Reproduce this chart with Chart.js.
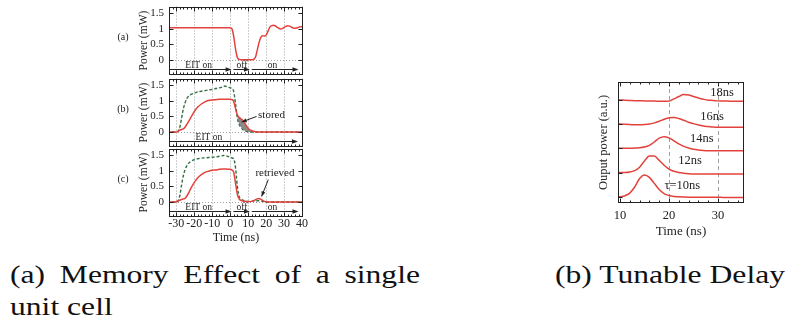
<!DOCTYPE html>
<html>
<head>
<meta charset="utf-8">
<script src="https://cdn.jsdelivr.net/npm/chart.js@4.4.0/dist/chart.umd.min.js"></script>
<style>
  body { margin: 0; background: #fff; width: 787px; height: 327px; position: relative; overflow: hidden; }
  canvas { position: absolute; }
  .cap { position: absolute; font-size: 26px; line-height: 31px; color: #111;
         white-space: nowrap; transform-origin: 0 0; }
</style>
</head>
<body>
<canvas id="panelA" width="210" height="78" style="left:100px;top:0px"></canvas>
<canvas id="panelB" width="210" height="78" style="left:100px;top:71.7px"></canvas>
<canvas id="panelC" width="210" height="103" style="left:100px;top:142.3px"></canvas>
<canvas id="delay" width="170" height="175" style="left:585px;top:70px"></canvas>
<div class="cap" id="capA1" style="left:10px;top:259px;text-align:justify;text-align-last:justify">(a) Memory Effect of a single</div>
<div class="cap" id="capA2" style="left:10px;top:291px">unit cell</div>
<div class="cap" id="capB" style="left:555px;top:259px">(b) Tunable Delay</div>
<script>
'use strict';

// Axis ticks for the three stacked memory panels
const memTicks = [-30, -20, -10, 0, 10, 20, 30, 40];
const powerTicks = [0, 0.5, 1, 1.5];

// (a) probe only, EIT off then back on
const aTime = [-35, -10, 0, 1, 2, 3, 4, 5, 6, 8, 10, 12, 13, 14, 15, 16, 17, 18, 19, 20, 21, 22, 23, 24, 25, 26, 27, 28, 29, 30, 31, 32, 33, 34, 35, 36, 37, 38, 39, 40];
const aPower = [1.04, 1.04, 1.04, 1.0, 0.75, 0.35, 0.08, 0.02, 0.01, 0.01, 0.01, 0.01, 0.02, 0.08, 0.3, 0.55, 0.72, 0.78, 0.77, 0.8, 0.92, 1.05, 1.1, 1.12, 1.1, 1.06, 1.02, 1.0, 1.01, 1.05, 1.08, 1.1, 1.09, 1.06, 1.03, 1.02, 1.03, 1.05, 1.07, 1.07];

// (b) pulse stored: green = input, red = output
const bTime = [-35, -31, -30, -29, -28, -27, -26, -25, -24, -23, -22, -20, -18, -16, -14, -12, -10, -8, -6, -4, -3, -2, -1, 0, 1, 2, 3, 4, 5, 6, 7, 8, 9, 10, 11, 12, 14, 16, 20, 30, 41];
const bInput = [0, 0, 0, 0.02, 0.15, 0.45, 0.75, 0.95, 1.08, 1.16, 1.2, 1.25, 1.29, 1.31, 1.33, 1.35, 1.37, 1.4, 1.42, 1.45, 1.48, 1.46, 1.44, 1.42, 1.4, 1.3, 0.9, 0.45, 0.25, 0.15, 0.08, 0.04, 0.02, 0.01, 0, 0, 0, 0, 0, 0, 0];
const bOutput = [0, 0, 0, 0.02, 0.06, 0.08, 0.1, 0.16, 0.25, 0.35, 0.45, 0.65, 0.8, 0.9, 0.97, 1.01, 1.03, 1.04, 1.05, 1.05, 1.05, 1.05, 1.05, 1.05, 1.04, 0.98, 0.75, 0.55, 0.47, 0.42, 0.38, 0.3, 0.2, 0.12, 0.07, 0.04, 0.01, 0, 0, 0, 0];

// (c) pulse retrieved
const cTime = [-35, -31, -30, -29, -28, -27, -26, -25, -24, -23, -22, -20, -18, -16, -14, -12, -10, -8, -6, -4, -3, -2, -1, 0, 1, 2, 3, 4, 5, 6, 7, 8, 10, 12, 13, 14, 15, 16, 17, 18, 19, 20, 22, 30, 41];
const cInput = [0, 0, 0, 0.03, 0.2, 0.55, 0.85, 1.05, 1.17, 1.25, 1.3, 1.36, 1.39, 1.41, 1.42, 1.43, 1.44, 1.45, 1.47, 1.49, 1.5, 1.48, 1.46, 1.44, 1.42, 1.38, 1.1, 0.5, 0.18, 0.1, 0.06, 0.04, 0.02, 0.02, 0.03, 0.04, 0.04, 0.04, 0.03, 0.02, 0.01, 0, 0, 0, 0];
const cOutput = [0, 0, 0.01, 0.03, 0.06, 0.08, 0.1, 0.12, 0.2, 0.3, 0.42, 0.62, 0.78, 0.88, 0.95, 0.99, 1.02, 1.03, 1.05, 1.06, 1.06, 1.06, 1.05, 1.05, 1.03, 0.95, 0.6, 0.25, 0.1, 0.05, 0.03, 0.02, 0.01, 0.02, 0.04, 0.07, 0.1, 0.11, 0.09, 0.05, 0.02, 0.01, 0, 0, 0];

// Tunable delay: one pulse per delay, stacked by offset
const delayTicks = [10, 20, 30];
const delayTime = [9, 10, 11, 12, 13, 14, 15, 16, 17, 18, 19, 20, 21, 22, 23, 24, 25, 26, 27, 28, 29, 30, 31, 32, 33, 34, 35, 36];
const delayOffsets = [0, 1, 2, 3, 4];
const delayLabels = ['τ=10ns', '12ns', '14ns', '16ns', '18ns'];
const pulse10 = [0, 0, 0.04, 0.15, 0.4, 0.75, 0.9, 0.8, 0.55, 0.3, 0.13, 0.05, 0.01, 0, -0.01, -0.02, -0.02, -0.02, -0.02, -0.02, -0.02, -0.02, -0.03, -0.03, -0.03, -0.03, -0.03, -0.03];
const pulse12 = [0, 0, 0, 0.02, 0.08, 0.22, 0.48, 0.68, 0.68, 0.5, 0.3, 0.14, 0.05, 0, -0.03, -0.05, -0.06, -0.06, -0.06, -0.06, -0.06, -0.06, -0.06, -0.06, -0.06, -0.06, -0.06, -0.06];
const pulse14 = [0, 0, 0, 0, 0.01, 0.02, 0.05, 0.12, 0.26, 0.42, 0.48, 0.43, 0.31, 0.18, 0.08, 0.01, -0.04, -0.07, -0.09, -0.1, -0.1, -0.1, -0.1, -0.1, -0.1, -0.1, -0.1, -0.1];
const pulse16 = [0, 0, -0.01, -0.02, -0.03, -0.03, -0.02, 0, 0.05, 0.12, 0.2, 0.26, 0.27, 0.23, 0.16, 0.08, 0.02, -0.04, -0.08, -0.1, -0.12, -0.13, -0.13, -0.13, -0.13, -0.13, -0.13, -0.13];
const pulse18 = [0, 0, -0.01, -0.02, -0.03, -0.03, -0.04, -0.05, -0.05, -0.06, -0.06, -0.05, 0.04, 0.14, 0.22, 0.2, 0.14, 0.08, 0.03, -0.01, -0.02, -0.04, -0.05, -0.05, -0.06, -0.06, -0.06, -0.06];
const delayPulses = [pulse10, pulse12, pulse14, pulse16, pulse18];

// pick the first installed Times-like face, else whatever serif there is
function pickSerif() {
  let c = document.createElement('canvas').getContext('2d');
  let probe = 'Memory Effect 0123';
  c.font = '20px monospace';
  let base = c.measureText(probe).width;
  let names = ['Liberation Serif', 'Tinos', 'Nimbus Roman', 'FreeSerif', 'Times New Roman', 'DejaVu Serif'];
  for (let i = 0; i < names.length; i++) {
    c.font = "20px '" + names[i] + "', monospace";
    if (c.measureText(probe).width !== base) return "'" + names[i] + "'";
  }
  return 'serif';
}

const serif = pickSerif() + ', serif';
const red = '#e3423c';
const green = '#2f6e3e';
const ink = '#222';

// captions: stretch to the widths of the original
(function () {
  let capB = document.getElementById('capB');
  ['capA1', 'capA2', 'capB'].forEach(function (id) { document.getElementById(id).style.fontFamily = serif; });
  let k = 230 / capB.getBoundingClientRect().width;
  ['capA1', 'capA2', 'capB'].forEach(function (id) {
    document.getElementById(id).style.transform = 'scaleX(' + k + ')';
  });
  document.getElementById('capA1').style.width = (410 / k) + 'px';
})();

function toPoints(xs, ys, shift) {
  return xs.map(function (x, i) { return { x: x, y: ys[i] + (shift || 0) }; });
}

function arrowHead(ctx, x0, y0, x1, y1, len, half) {
  let ang = Math.atan2(y1 - y0, x1 - x0);
  ctx.beginPath();
  ctx.moveTo(x1, y1);
  ctx.lineTo(x1 - len * Math.cos(ang) + half * Math.sin(ang), y1 - len * Math.sin(ang) - half * Math.cos(ang));
  ctx.lineTo(x1 - len * Math.cos(ang) - half * Math.sin(ang), y1 - len * Math.sin(ang) + half * Math.cos(ang));
  ctx.closePath();
  ctx.fill();
}

// keep the plot box exactly where the layout padding puts it
function fixWidth(w) {
  return function (s) { s.width = w; s.paddingTop = 0; s.paddingBottom = 0; };
}
function fixHeight(h) {
  return function (s) { s.height = h; s.paddingLeft = 0; s.paddingRight = 0; };
}

// Frame, inward ticks, dotted grid, EIT bands and notes
const decor = {
  id: 'decor',
  beforeDatasetsDraw(chart, args, o) {
    let ctx = chart.ctx, a = chart.chartArea, x = chart.scales.x, y = chart.scales.y;
    ctx.save();
    ctx.strokeStyle = '#a0a0a0';
    ctx.lineWidth = 1;
    ctx.setLineDash(o.gridDash || [1, 2]);
    (o.gridX || []).forEach(function (v) {
      let px = Math.round(x.getPixelForValue(v)) + 0.5;
      ctx.beginPath(); ctx.moveTo(px, a.top); ctx.lineTo(px, a.bottom); ctx.stroke();
    });
    (o.gridY || []).forEach(function (v) {
      let py = Math.round(y.getPixelForValue(v)) + 0.5;
      ctx.beginPath(); ctx.moveTo(a.left, py); ctx.lineTo(a.right, py); ctx.stroke();
    });
    ctx.restore();
  },
  afterDatasetsDraw(chart, args, o) {
    let ctx = chart.ctx, a = chart.chartArea, x = chart.scales.x, y = chart.scales.y;
    ctx.save();
    ctx.strokeStyle = ink;
    ctx.fillStyle = ink;
    ctx.lineWidth = 1;
    let l = Math.round(a.left) + 0.5, r = Math.round(a.right) - 0.5;
    let t = Math.round(a.top) + 0.5, b = Math.round(a.bottom) - 0.5;
    ctx.strokeRect(l, t, r - l, b - t);

    // x ticks, top and bottom, pointing in
    ctx.beginPath();
    let step = o.xMinor;
    for (let v = Math.ceil(x.min / step) * step; v <= x.max; v += step) {
      let px = Math.round(x.getPixelForValue(v)) + 0.5;
      let len = (o.xMajor.indexOf(v) >= 0) ? 4 : 2;
      ctx.moveTo(px, t); ctx.lineTo(px, t + len);
      ctx.moveTo(px, b); ctx.lineTo(px, b - len);
    }
    (o.yMajor || []).forEach(function (v) {
      let py = Math.round(y.getPixelForValue(v)) + 0.5;
      ctx.moveTo(l, py); ctx.lineTo(l + 4, py);
      if (o.yRight) { ctx.moveTo(r, py); ctx.lineTo(r - 4, py); }
    });
    ctx.stroke();

    // EIT on/off arrows under the traces
    if (o.bands) {
      let py = Math.round(y.getPixelForValue(o.bandY)) + 0.5;
      ctx.font = '9.5px ' + serif;
      ctx.textAlign = 'center';
      ctx.textBaseline = 'alphabetic';
      o.bands.forEach(function (band) {
        let x0 = band.from === undefined ? a.left : x.getPixelForValue(band.from);
        let x1 = x.getPixelForValue(band.to);
        ctx.beginPath(); ctx.moveTo(x0, py); ctx.lineTo(x1 - 3, py); ctx.stroke();
        arrowHead(ctx, x0, py, x1, py, 6, 2.2);
        ctx.fillText(band.text, x.getPixelForValue(band.at), py - 2);
      });
    }

    // annotations with arrows
    (o.notes || []).forEach(function (n) {
      ctx.font = '11px ' + serif;
      ctx.textAlign = 'center';
      ctx.textBaseline = 'middle';
      ctx.fillText(n.text, x.getPixelForValue(n.tx), y.getPixelForValue(n.ty));
      let x0 = x.getPixelForValue(n.from[0]), y0 = y.getPixelForValue(n.from[1]);
      let x1 = x.getPixelForValue(n.to[0]), y1 = y.getPixelForValue(n.to[1]);
      ctx.beginPath(); ctx.moveTo(x0, y0); ctx.lineTo(x1, y1); ctx.stroke();
      arrowHead(ctx, x0, y0, x1, y1, 5, 2);
    });

    // curve tags on the delay plot
    (o.tags || []).forEach(function (tg) {
      ctx.font = '12.5px ' + serif;
      ctx.textAlign = 'center';
      ctx.textBaseline = 'middle';
      ctx.fillText(tg.text, x.getPixelForValue(tg.x), y.getPixelForValue(tg.y));
    });

    if (o.panelLabel) {
      ctx.font = '10px ' + serif;
      ctx.textAlign = 'center';
      ctx.textBaseline = 'middle';
      ctx.fillText(o.panelLabel, a.left - 46, (a.top + a.bottom) / 2 - 3);
    }
    ctx.restore();
  }
};

function memoryPanel(id, datasets, decorOpts, showTime) {
  return new Chart(document.getElementById(id), {
    type: 'line',
    data: { datasets: datasets },
    plugins: [decor],
    options: {
      responsive: false,
      animation: false,
      devicePixelRatio: 1,
      layout: { padding: { left: 36.7, right: 7, top: 6.5, bottom: showTime ? 0 : 3.4 } },
      elements: { point: { radius: 0 }, line: { borderWidth: 1.5, cubicInterpolationMode: 'monotone' } },
      plugins: { legend: { display: false }, tooltip: { enabled: false }, decor: decorOpts },
      scales: {
        x: {
          type: 'linear', min: -34, max: 40.5, display: showTime,
          afterFit: fixHeight(showTime ? 28.4 : 0),
          afterBuildTicks: function (s) { s.ticks = memTicks.map(function (v) { return { value: v }; }); },
          grid: { display: false, drawTicks: false },
          border: { display: false },
          ticks: { padding: 0, autoSkip: false, maxRotation: 0, color: ink, font: { family: serif, size: 12 } },
          title: { display: true, text: 'Time (ns)', padding: 0, color: ink, font: { family: serif, size: 12 } }
        },
        y: {
          min: -0.47, max: 1.72,
          afterFit: fixWidth(32.3),
          afterBuildTicks: function (s) { s.ticks = powerTicks.map(function (v) { return { value: v }; }); },
          grid: { display: false, drawTicks: false },
          border: { display: false },
          ticks: { padding: 5, autoSkip: false, color: ink, font: { family: serif, size: 11 }, callback: function (v) { return String(v); } },
          title: { display: true, text: 'Power (mW)', padding: 0, color: ink, font: { family: serif, size: 11.5 } }
        }
      }
    }
  });
}

let splitBands = [
  { text: 'EIT on', at: -17.5, to: 0.8 },
  { text: 'off', at: 6.6, from: 1.8, to: 11 },
  { text: 'on', at: 23.5, from: 12, to: 38 }
];

function memDecor(label, extra) {
  let o = {
    gridX: memTicks, gridY: [0], gridDash: [1, 2],
    xMajor: memTicks, xMinor: 2, yMajor: powerTicks, yRight: true,
    bandY: -0.3, panelLabel: label
  };
  return Object.assign(o, extra);
}

memoryPanel('panelA', [
  { data: toPoints(aTime, aPower), borderColor: red, fill: false }
], memDecor('(a)', { bands: splitBands }), false);

memoryPanel('panelB', [
  { data: toPoints(bTime, bOutput), borderColor: red,
    fill: { target: '+1', above: 'rgba(125,125,125,0.9)', below: 'rgba(0,0,0,0)' } },
  { data: toPoints(bTime, bInput), borderColor: green, borderDash: [3, 2], borderWidth: 1.4, fill: false }
], memDecor('(b)', {
  bands: [{ text: 'EIT on', at: -11.8, to: 37.7 }],
  notes: [{ text: 'stored', tx: 23, ty: 0.55, from: [14.7, 0.5], to: [6.4, 0.32] }]
}), false);

memoryPanel('panelC', [
  { data: toPoints(cTime, cOutput), borderColor: red, fill: false },
  { data: toPoints(cTime, cInput), borderColor: green, borderDash: [3, 2], borderWidth: 1.4, fill: false }
], memDecor('(c)', {
  bands: splitBands,
  notes: [{ text: 'retrieved', tx: 24.9, ty: 0.93, from: [21.2, 0.72], to: [17.5, 0.18] }]
}), true);

// Tunable delay panel
let delaySets = delayPulses.map(function (p, i) {
  return { data: toPoints(delayTime, p, delayOffsets[i]), borderColor: red, borderWidth: 1.5, fill: false };
});

new Chart(document.getElementById('delay'), {
  type: 'line',
  data: { datasets: delaySets },
  plugins: [decor],
  options: {
    responsive: false,
    animation: false,
    devicePixelRatio: 1,
    layout: { padding: { left: 10.8, right: 11, top: 12, bottom: 5.8 } },
    elements: { point: { radius: 0 }, line: { cubicInterpolationMode: 'monotone' } },
    plugins: {
      legend: { display: false }, tooltip: { enabled: false },
      decor: {
        gridX: [20, 30], gridDash: [4, 3],
        xMajor: delayTicks, xMinor: 2, yMajor: delayOffsets, yRight: false,
        tags: [
          { text: delayLabels[0], x: 22.7, y: 0.44 },
          { text: delayLabels[1], x: 24.3, y: 1.48 },
          { text: delayLabels[2], x: 26.7, y: 2.38 },
          { text: delayLabels[3], x: 28.8, y: 3.29 },
          { text: delayLabels[4], x: 30.8, y: 4.28 }
        ]
      }
    },
    scales: {
      x: {
        type: 'linear', min: 9.6, max: 35.3,
        afterFit: fixHeight(36.2),
        afterBuildTicks: function (s) { s.ticks = delayTicks.map(function (v) { return { value: v }; }); },
        grid: { display: false, drawTicks: false },
        border: { display: false },
        ticks: { padding: 5, autoSkip: false, maxRotation: 0, color: ink, font: { family: serif, size: 12.5 } },
        title: { display: true, text: 'Time (ns)', padding: 0, color: ink, font: { family: serif, size: 13 } }
      },
      y: {
        min: -0.26, max: 4.74,
        afterFit: fixWidth(22.2),
        grid: { display: false, drawTicks: false },
        border: { display: false },
        ticks: { display: false },
        title: { display: true, text: 'Ouput power (a.u.)', padding: 0, color: ink, font: { family: serif, size: 12.5 } }
      }
    }
  }
});
</script>
</body>
</html>
